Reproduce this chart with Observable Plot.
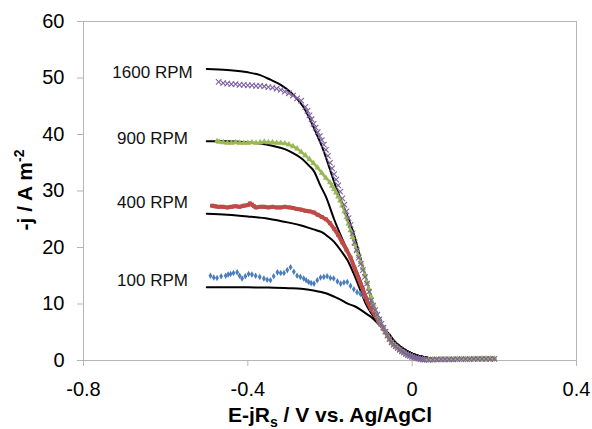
<!DOCTYPE html>
<html><head><meta charset="utf-8">
<script src="https://cdn.jsdelivr.net/npm/d3@7"></script>
<script src="https://cdn.jsdelivr.net/npm/@observablehq/plot@0.6"></script>
<style>
body{margin:0;background:#fff;}
#chart svg{display:block;}
</style>
</head><body><div id="chart"></div>
<script>
// ---- axis ticks ----
const xTicks = [-0.8, -0.4, 0, 0.4];
const yTicks = [0, 10, 20, 30, 40, 50, 60];

// ---- curve labels ----
const rpmLabels = ["1600 RPM", "900 RPM", "400 RPM", "100 RPM"];
const labelJ = [51.0, 39.2, 28.0, 14.2];
const labelE = -0.632;

// ---- model curves (black) ----
const modelTailE = [-0.055,-0.045,-0.03,-0.02,-0.01,0,0.012,0.025,0.04,0.055,0.07,0.1,0.15,0.2];
const modelTailJ = [4.5,3.5,2.5,2.0,1.55,1.2,0.9,0.65,0.45,0.35,0.28,0.2,0.14,0.12];

const m100E = [-0.5,-0.45,-0.4,-0.35,-0.3,-0.27,-0.24,-0.21,-0.19,-0.17,-0.158,-0.14,-0.126,-0.11,-0.1,-0.085,-0.069];
const m100J = [12.97,12.97,12.95,12.9,12.8,12.7,12.4,11.9,11.3,10.6,10.1,9.6,9.0,8.2,7.7,6.7,5.6];

const m400E = [-0.5,-0.45,-0.4,-0.35,-0.3,-0.27,-0.24,-0.22,-0.206,-0.19,-0.182,-0.17,-0.157,-0.143,-0.126,-0.114,-0.1,-0.085,-0.069];
const m400J = [25.96,25.8,25.5,25.1,24.4,23.9,23.2,22.7,22.0,21.0,20.3,19.1,17.7,15.5,12.4,10.2,8.4,6.9,5.6];

const m900E = [-0.5,-0.45,-0.4,-0.37,-0.34,-0.31,-0.29,-0.27,-0.25,-0.24,-0.223,-0.21,-0.19,-0.17,-0.15,-0.126,-0.106,-0.09,-0.069];
const m900J = [38.8,38.8,38.6,38.4,38.0,37.4,36.7,35.8,34.4,33.6,30.9,29.0,25.0,21.5,18.3,14.2,10.0,7.5,5.6];

const m1600E = [-0.5,-0.45,-0.4,-0.37,-0.345,-0.32,-0.296,-0.28,-0.264,-0.25,-0.24,-0.228,-0.216,-0.2,-0.189,-0.166,-0.142,-0.122,-0.109,-0.097,-0.085,-0.069];
const m1600J = [51.6,51.4,51.0,50.5,49.7,48.8,47.5,46.3,44.8,42.9,41.3,39.3,37.2,33.8,31.4,27.1,22.4,17.1,13.6,10.0,7.6,5.6];

// ---- measured data ----
const dataTailE = [-0.06,-0.055,-0.05,-0.045,-0.04,-0.035,-0.03,-0.025,-0.02,-0.015,-0.01,-0.005,0,0.005,0.01,0.015,0.02,0.025,0.03,0.04,0.05,0.06,0.07,0.08,0.09,0.10,0.11,0.12,0.13,0.14,0.15,0.16,0.17,0.18,0.19,0.20];
const dataTailJ = [4.4,3.8,3.2,2.8,2.5,2.2,1.9,1.6,1.4,1.15,0.95,0.8,0.65,0.5,0.4,0.32,0.25,0.2,0.15,0.12,0.15,0.18,0.2,0.2,0.22,0.22,0.25,0.25,0.25,0.25,0.27,0.27,0.28,0.28,0.3,0.3];

const d100E = [-0.491,-0.483,-0.475,-0.465,-0.454,-0.448,-0.442,-0.435,-0.426,-0.42,-0.414,-0.406,-0.398,-0.39,-0.381,-0.371,-0.361,-0.353,-0.345,-0.337,-0.328,-0.32,-0.312,-0.304,-0.296,-0.288,-0.28,-0.272,-0.264,-0.258,-0.252,-0.246,-0.239,-0.231,-0.223,-0.215,-0.207,-0.199,-0.191,-0.182,-0.174,-0.166,-0.158,-0.15,-0.142,-0.134,-0.126,-0.118,-0.109,-0.101,-0.093,-0.085,-0.077,-0.069,-0.065];
const d100J = [15.0,14.7,14.6,14.9,15.0,15.2,15.3,15.5,15.6,15.0,14.5,14.9,15.3,15.2,15.0,14.8,14.5,14.3,14.2,14.9,15.6,15.5,15.5,16.0,16.5,15.7,15.0,14.8,14.5,14.2,13.9,13.7,13.6,14.2,14.7,14.8,14.9,14.6,14.5,14.0,13.6,13.8,13.9,13.2,12.6,12.1,11.8,11.4,10.9,10.0,9.4,8.2,7.1,5.8,5.1];

const d400E = [-0.487,-0.48,-0.47,-0.46,-0.45,-0.44,-0.43,-0.42,-0.41,-0.40,-0.395,-0.39,-0.385,-0.38,-0.37,-0.36,-0.35,-0.34,-0.33,-0.32,-0.31,-0.30,-0.29,-0.28,-0.27,-0.26,-0.25,-0.24,-0.23,-0.22,-0.21,-0.20,-0.19,-0.18,-0.17,-0.16,-0.15,-0.14,-0.13,-0.12,-0.11,-0.10,-0.09,-0.08,-0.07,-0.065];
const d400J = [27.4,27.3,27.2,27.2,27.1,27.2,27.3,27.2,27.4,27.5,27.8,27.6,27.3,27.1,27.2,27.2,27.1,27.2,27.1,27.1,27.2,27.1,27.0,26.8,26.7,26.5,26.4,26.2,25.8,25.4,25.0,24.3,23.3,22.2,20.9,19.6,18.2,16.3,14.4,12.6,10.6,9.1,8.0,6.7,5.6,5.0];

const d900E = [-0.475,-0.47,-0.46,-0.45,-0.44,-0.43,-0.42,-0.41,-0.40,-0.39,-0.38,-0.37,-0.36,-0.35,-0.34,-0.33,-0.32,-0.31,-0.30,-0.29,-0.28,-0.27,-0.26,-0.25,-0.24,-0.23,-0.22,-0.21,-0.20,-0.195,-0.19,-0.185,-0.18,-0.175,-0.17,-0.165,-0.16,-0.155,-0.15,-0.145,-0.14,-0.135,-0.13,-0.125,-0.12,-0.115,-0.11,-0.105,-0.10,-0.095,-0.09,-0.085,-0.08,-0.075,-0.07,-0.065];
const d900J = [38.8,38.7,38.6,38.5,38.5,38.6,38.5,38.5,38.5,38.6,38.5,38.6,38.7,38.6,38.6,38.5,38.5,38.4,38.2,37.9,37.5,36.9,36.3,35.6,34.9,34.1,33.2,32.3,31.5,30.9,30.3,29.7,29.0,28.3,27.4,26.4,25.3,24.2,23.0,21.8,20.6,19.5,18.4,17.4,16.3,15.2,13.9,12.6,11.3,10.0,8.9,7.9,7.1,6.4,5.7,5.1];

const d1600E = [-0.471,-0.46,-0.45,-0.44,-0.43,-0.42,-0.41,-0.40,-0.39,-0.38,-0.37,-0.36,-0.35,-0.34,-0.33,-0.32,-0.31,-0.30,-0.29,-0.28,-0.27,-0.26,-0.255,-0.25,-0.245,-0.24,-0.235,-0.23,-0.225,-0.22,-0.215,-0.21,-0.205,-0.20,-0.195,-0.19,-0.185,-0.18,-0.175,-0.17,-0.165,-0.16,-0.155,-0.15,-0.145,-0.14,-0.135,-0.13,-0.125,-0.12,-0.115,-0.11,-0.105,-0.10,-0.095,-0.09,-0.085,-0.08,-0.075,-0.07,-0.065];
const d1600J = [49.3,49.1,49.0,48.9,48.9,48.8,48.8,48.7,48.7,48.6,48.6,48.5,48.4,48.3,48.1,47.9,47.6,47.3,46.9,46.4,46.0,44.9,44.2,43.4,42.7,41.9,41.2,40.4,39.7,39.0,38.2,37.3,36.2,35.0,34.0,33.0,32.0,31.0,29.9,28.7,27.6,26.4,25.2,24.0,22.5,20.9,19.5,18.2,17.1,16.0,14.8,13.6,12.2,10.6,9.7,8.9,8.1,7.3,6.5,5.8,5.1];

// ---- build tables ----
const zip = (E, J, key) => E.map((e, i) => ({E: e, J: J[i], key}));
const models = [
  ...zip([...m100E, ...modelTailE], [...m100J, ...modelTailJ], "100"),
  ...zip([...m400E, ...modelTailE], [...m400J, ...modelTailJ], "400"),
  ...zip([...m900E, ...modelTailE], [...m900J, ...modelTailJ], "900"),
  ...zip([...m1600E, ...modelTailE], [...m1600J, ...modelTailJ], "1600")
];
const s100 = zip([...d100E, ...dataTailE], [...d100J, ...dataTailJ], "100");
const s400 = zip([...d400E, ...dataTailE], [...d400J, ...dataTailJ], "400");
const s900 = zip([...d900E, ...dataTailE], [...d900J, ...dataTailJ], "900");
const s1600 = zip([...d1600E, ...dataTailE], [...d1600J, ...dataTailJ], "1600");
const labels = rpmLabels.map((t, i) => ({text: t, E: labelE, J: labelJ[i]}));

const BLUE = "#4a7ebb", RED = "#be4b48", GREEN = "#98b954", PURPLE = "#7d60a0", GRID = "#b5b5b5";

const chart = Plot.plot({
  width: 592, height: 429,
  marginLeft: 83, marginRight: 16, marginTop: 21, marginBottom: 69,
  style: {fontFamily: "'Liberation Sans', Arial, sans-serif", background: "#fff", color: "#000"},
  x: {domain: [-0.8, 0.4]},
  y: {domain: [0, 60]},
  marks: [
    Plot.frame({stroke: GRID}),
    Plot.axisX(xTicks, {tickSize: 6, tickPadding: 15, fontSize: 20, stroke: GRID, fill: "#000", label: null, tickFormat: d => String(d)}),
    Plot.axisY(yTicks, {tickSize: 6, tickPadding: 13, fontSize: 20, stroke: GRID, fill: "#000", label: null, tickFormat: d => String(d)}),
    Plot.line(models, {x: "E", y: "J", z: "key", stroke: "#000", strokeWidth: 2, curve: "monotone-x"}),
    Plot.dot(s100, {x: "E", y: "J", symbol: "diamond", r: 2.0, fill: BLUE}),
    Plot.line(s400, {x: "E", y: "J", stroke: RED, strokeWidth: 4, curve: "monotone-x"}),
    Plot.dot(s400, {x: "E", y: "J", symbol: "square", r: 2.2, fill: RED}),
    Plot.line(s900, {x: "E", y: "J", stroke: GREEN, strokeWidth: 2.5, curve: "monotone-x"}),
    Plot.dot(s900, {x: "E", y: "J", symbol: "triangle", r: 2.3, fill: GREEN}),
    Plot.dot(s1600, {x: "E", y: "J", symbol: "times", r: 2.6, stroke: PURPLE, strokeWidth: 1.1}),
    Plot.text(labels, {x: "E", y: "J", text: "text", fontSize: 17, fill: "#111", textAnchor: "middle"})
  ]
});

const svg = d3.select(chart);
// x axis title
const xt = svg.append("text")
  .attr("x", 330).attr("y", 422)
  .attr("text-anchor", "middle")
  .attr("font-size", 21).attr("font-weight", "bold").attr("fill", "#000");
xt.append("tspan").text("E-jR");
xt.append("tspan").attr("font-size", 14).attr("dy", 5).text("s");
xt.append("tspan").attr("dy", -5).text(" / V vs. Ag/AgCl");
// y axis title
const yt = svg.append("text")
  .attr("transform", "translate(32,190) rotate(-90)")
  .attr("text-anchor", "middle")
  .attr("font-size", 21).attr("font-weight", "bold").attr("fill", "#000");
yt.append("tspan").text("-j / A m");
yt.append("tspan").attr("font-size", 14).attr("dy", -8).text("-2");

document.getElementById("chart").appendChild(chart);
</script>
</body></html>
